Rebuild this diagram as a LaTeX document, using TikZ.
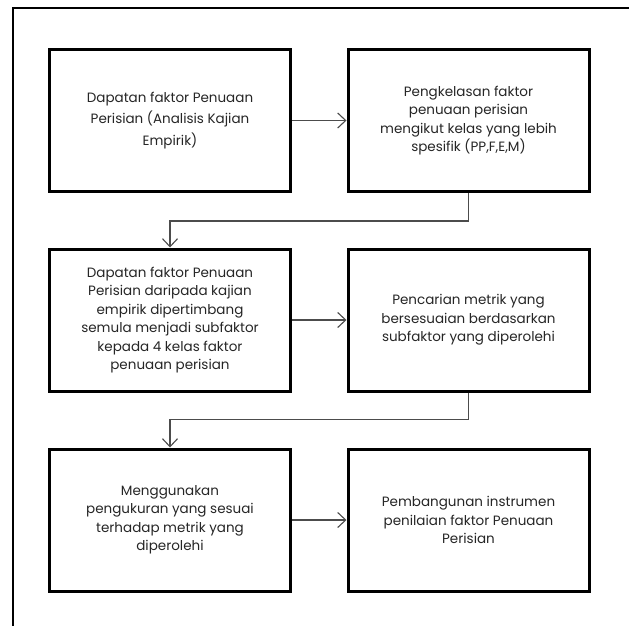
\documentclass[tikz,border=0pt]{standalone}
\usepackage{fontspec}
\setmainfont{Poppins}
\usetikzlibrary{arrows.meta}
\begin{document}
\begin{tikzpicture}[x=1pt,y=-1pt,
  stepbox/.style={draw=black,line width=3pt,fill=white,
    minimum width=241pt,minimum height=142pt,inner sep=0pt,
    align=center,text=black!85,
    font=\fontsize{13.5}{18.5}\selectfont},
  conn/.style={draw=black!70,line width=1.2pt,
    -{Straight Barb[length=8pt,width=15pt,line width=1.1pt]}}]
\useasboundingbox (0,0) rectangle (629,626);
% frame lines along the top and left edges
\draw[line width=2pt] (629,8.5) -- (13,8.5) -- (13,626);

\node[stepbox,font=\fontsize{13.5}{21.5}\selectfont] (b1) at (170,120.5)
  {Dapatan faktor Penuaan\\Perisian (Analisis Kajian\\Empirik)};
\node[stepbox] (b2) at (468.5,120.5)
  {Pengkelasan faktor\\penuaan perisian\\mengikut kelas yang lebih\\spesifik (PP,F,E,M)};
\node[stepbox] (b3) at (170,320)
  {Dapatan faktor Penuaan\\Perisian daripada kajian\\empirik dipertimbang\\semula menjadi subfaktor\\kepada 4 kelas faktor\\penuaan perisian};
\node[stepbox] (b4) at (468.5,320)
  {Pencarian metrik yang\\bersesuaian berdasarkan\\subfaktor yang diperolehi};
\node[stepbox] (b5) at (170,520)
  {Menggunakan\\pengukuran yang sesuai\\terhadap metrik yang\\diperolehi};
\node[stepbox] (b6) at (468.5,520)
  {Pembangunan instrumen\\penilaian faktor Penuaan\\Perisian};

\draw[conn] (b1.east) -- (b2.west);
\draw[conn] (b2.south) -- ++(0,28) -| (b3.north);
\draw[conn] (b3.east) -- (b4.west);
\draw[conn] (b4.south) -- ++(0,27) -| (b5.north);
\draw[conn] (b5.east) -- (b6.west);
\end{tikzpicture}
\end{document}
